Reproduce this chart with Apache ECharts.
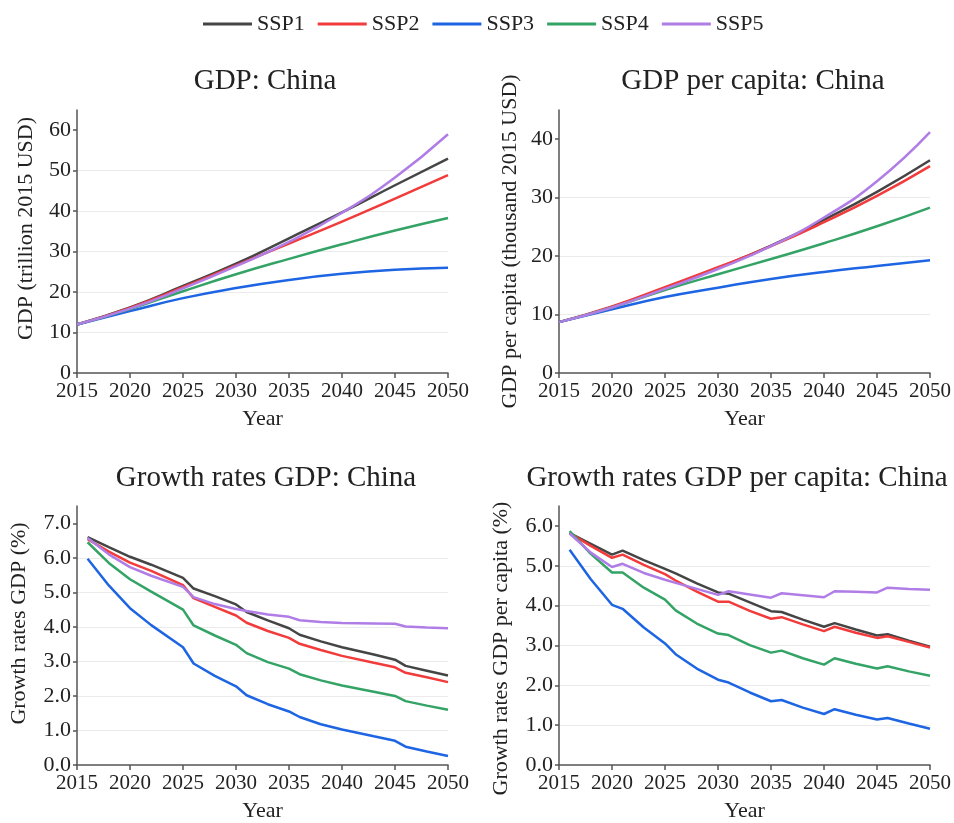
<!DOCTYPE html>
<html>
<head>
<meta charset="utf-8">
<title>China GDP projections by SSP</title>
<script src="https://cdn.jsdelivr.net/npm/echarts@6/dist/echarts.min.js"></script>
<style>
  html, body { margin: 0; padding: 0; background: #ffffff; }
  #chart { width: 954px; height: 823px; }
</style>
</head>
<body>
<div id="chart"></div>
<script>
// Scenario names and colours
const scenarios = ['SSP1', 'SSP2', 'SSP3', 'SSP4', 'SSP5'];
const colors = ['#454545', '#f23b3b', '#1d65e3', '#33a366', '#b07de6'];

// Levels: five-year steps
const levelYears = [2015, 2020, 2025, 2030, 2035, 2040, 2045, 2050];

// GDP, trillion 2015 USD
const gdpSSP1 = [12.0, 16.2, 21.5, 27.0, 33.3, 39.7, 46.4, 53.0];
const gdpSSP2 = [12.0, 16.1, 21.2, 26.6, 32.0, 37.4, 43.1, 48.9];
const gdpSSP3 = [12.0, 15.3, 18.5, 21.0, 23.0, 24.5, 25.5, 26.0];
const gdpSSP4 = [12.0, 15.8, 20.2, 24.4, 28.2, 31.8, 35.2, 38.3];
const gdpSSP5 = [12.0, 15.9, 20.9, 26.4, 32.4, 39.6, 48.3, 59.0];

// GDP per capita, thousand 2015 USD
const gdppcSSP1 = [8.7, 11.3, 14.6, 18.0, 21.8, 26.2, 31.0, 36.4];
const gdppcSSP2 = [8.7, 11.4, 14.7, 18.1, 21.7, 25.8, 30.3, 35.4];
const gdppcSSP3 = [8.7, 10.9, 13.0, 14.6, 16.1, 17.3, 18.3, 19.3];
const gdppcSSP4 = [8.7, 11.2, 14.2, 16.9, 19.5, 22.2, 25.1, 28.3];
const gdppcSSP5 = [8.7, 11.2, 14.4, 17.8, 21.7, 26.6, 32.8, 41.2];

// Growth rates of GDP, %
const growthYears = [2016, 2018, 2020, 2022, 2025, 2026, 2028, 2030, 2031, 2033,
                     2035, 2036, 2038, 2040, 2043, 2045, 2046, 2048, 2050];
const growthSSP1 = [6.60, 6.31, 6.03, 5.80, 5.42, 5.11, 4.89, 4.65, 4.43, 4.19,
                    3.96, 3.77, 3.58, 3.41, 3.20, 3.05, 2.87, 2.73, 2.59];
const growthSSP2 = [6.54, 6.18, 5.86, 5.62, 5.21, 4.83, 4.58, 4.33, 4.12, 3.88,
                    3.68, 3.51, 3.33, 3.16, 2.96, 2.83, 2.67, 2.54, 2.40];
const growthSSP3 = [5.97, 5.20, 4.54, 4.05, 3.41, 2.94, 2.58, 2.28, 2.02, 1.76,
                    1.55, 1.39, 1.18, 1.03, 0.83, 0.70, 0.53, 0.39, 0.26];
const growthSSP4 = [6.45, 5.85, 5.38, 5.02, 4.50, 4.04, 3.75, 3.48, 3.24, 2.98,
                    2.79, 2.63, 2.45, 2.30, 2.12, 2.00, 1.85, 1.72, 1.60];
const growthSSP5 = [6.57, 6.10, 5.73, 5.48, 5.16, 4.86, 4.66, 4.52, 4.46, 4.36,
                    4.29, 4.19, 4.14, 4.11, 4.10, 4.09, 4.01, 3.98, 3.96];

// Growth rates of GDP per capita, %
const growthPcYears = [2016, 2018, 2020, 2021, 2023, 2025, 2026, 2028, 2030, 2031, 2033,
                       2035, 2036, 2038, 2040, 2041, 2043, 2045, 2046, 2048, 2050];
const growthPcSSP1 = [5.82, 5.55, 5.28, 5.38, 5.14, 4.92, 4.81, 4.56, 4.33, 4.30, 4.08,
                      3.86, 3.84, 3.65, 3.47, 3.56, 3.40, 3.25, 3.28, 3.12, 2.97];
const growthPcSSP2 = [5.82, 5.50, 5.20, 5.28, 5.02, 4.79, 4.63, 4.35, 4.10, 4.10, 3.87,
                      3.67, 3.71, 3.53, 3.36, 3.47, 3.32, 3.19, 3.23, 3.09, 2.95];
const growthPcSSP3 = [5.40, 4.66, 4.02, 3.92, 3.45, 3.05, 2.78, 2.42, 2.14, 2.07, 1.82,
                      1.60, 1.63, 1.44, 1.28, 1.40, 1.26, 1.14, 1.18, 1.04, 0.91];
const growthPcSSP4 = [5.87, 5.30, 4.83, 4.83, 4.45, 4.15, 3.88, 3.55, 3.30, 3.26, 3.01,
                      2.82, 2.87, 2.68, 2.52, 2.68, 2.54, 2.42, 2.48, 2.35, 2.24];
const growthPcSSP5 = [5.81, 5.33, 4.97, 5.05, 4.82, 4.65, 4.57, 4.42, 4.27, 4.36, 4.28,
                      4.20, 4.31, 4.26, 4.21, 4.36, 4.35, 4.33, 4.45, 4.42, 4.40];

// Axis ticks
const yearTicks = [2015, 2020, 2025, 2030, 2035, 2040, 2045, 2050];
const gdpTicks = [0, 10, 20, 30, 40, 50, 60];
const gdppcTicks = [0, 10, 20, 30, 40];
const growthTicks = [0, 1, 2, 3, 4, 5, 6, 7];
const growthPcTicks = [0, 1, 2, 3, 4, 5, 6];

const panels = [
  { title: 'GDP: China', yName: 'GDP (trillion 2015 USD)', x: levelYears,
    series: [gdpSSP1, gdpSSP2, gdpSSP3, gdpSSP4, gdpSSP5], ticks: gdpTicks, max: 65,
    step: 10, digits: 0, smooth: true },
  { title: 'GDP per capita: China', yName: 'GDP per capita (thousand 2015 USD)', x: levelYears,
    series: [gdppcSSP1, gdppcSSP2, gdppcSSP3, gdppcSSP4, gdppcSSP5], ticks: gdppcTicks, max: 45,
    step: 10, digits: 0, smooth: true },
  { title: 'Growth rates GDP: China', yName: 'Growth rates GDP (%)', x: growthYears,
    series: [growthSSP1, growthSSP2, growthSSP3, growthSSP4, growthSSP5], ticks: growthTicks, max: 7.5,
    step: 1, digits: 1, smooth: false },
  { title: 'Growth rates GDP per capita: China', yName: 'Growth rates GDP per capita (%)', x: growthPcYears,
    series: [growthPcSSP1, growthPcSSP2, growthPcSSP3, growthPcSSP4, growthPcSSP5], ticks: growthPcTicks, max: 6.5,
    step: 1, digits: 1, smooth: false }
];

const FONT = '"Liberation Serif", "Times New Roman", serif';
const TEXT = '#222222';
const AXIS = '#555555';

// Panel placement
const grids = [
  { left: 77, top: 110, width: 371, height: 263 },
  { left: 559, top: 110, width: 371, height: 263 },
  { left: 77, top: 506, width: 371, height: 262 },
  { left: 559, top: 506, width: 371, height: 262 }
];
const titlePos = [
  { x: 265, y: 67 }, { x: 753, y: 67 }, { x: 266, y: 464 }, { x: 737, y: 464 }
];
const yNameGap = [40, 38, 47, 47];
// shifts each rotated axis name along its axis
const yNamePad = [[0, 0, 0, 26], [0, 0, 0, 0], [0, 0, 0, 24], [0, 26, 0, 0]];

const option = {
  backgroundColor: '#ffffff',
  animation: false,
  color: colors,
  legend: {
    data: scenarios,
    left: 203,
    top: 13,
    padding: 0,
    icon: 'rect',
    itemWidth: 49,
    itemHeight: 3,
    itemGap: 13,
    textStyle: { fontFamily: FONT, fontSize: 22, color: TEXT }
  },
  title: panels.map((p, i) => ({
    text: p.title,
    left: titlePos[i].x,
    top: titlePos[i].y,
    textAlign: 'center',
    padding: 0,
    textStyle: { fontFamily: FONT, fontSize: 29, fontWeight: 'normal', color: TEXT }
  })),
  grid: grids.map(g => Object.assign({ containLabel: false }, g)),
  xAxis: panels.map((p, i) => ({
    type: 'value',
    gridIndex: i,
    min: 2015,
    max: 2050,
    interval: 5,
    name: 'Year',
    nameLocation: 'middle',
    nameGap: 35,
    nameTextStyle: { fontFamily: FONT, fontSize: 22, color: TEXT },
    axisLine: { show: true, lineStyle: { color: AXIS, width: 1.5 } },
    axisTick: { show: true, length: 5, lineStyle: { color: AXIS, width: 1.5 } },
    axisLabel: { fontFamily: FONT, fontSize: 21, color: TEXT, margin: 8,
                 customValues: yearTicks, formatter: v => String(v) },
    splitLine: { show: false }
  })),
  yAxis: panels.map((p, i) => ({
    type: 'value',
    gridIndex: i,
    min: 0,
    max: p.max,
    interval: p.step,
    name: p.yName,
    nameLocation: 'middle',
    nameGap: yNameGap[i],
    nameTextStyle: { fontFamily: FONT, fontSize: 22, color: TEXT, padding: yNamePad[i] },
    axisLine: { show: true, lineStyle: { color: AXIS, width: 1.5 } },
    axisTick: { show: true, length: 4, customValues: p.ticks, lineStyle: { color: AXIS, width: 1.5 } },
    axisLabel: { fontFamily: FONT, fontSize: 22, color: TEXT, margin: 6,
                 customValues: p.ticks,
                 formatter: v => v.toFixed(p.digits) },
    splitLine: { show: true, showMaxLine: false, showMinLine: false,
                 lineStyle: { color: '#ebebeb', width: 1 } }
  })),
  series: []
};

panels.forEach((p, i) => {
  p.series.forEach((vals, k) => {
    option.series.push({
      name: scenarios[k],
      type: 'line',
      xAxisIndex: i,
      yAxisIndex: i,
      data: p.x.map((yr, j) => [yr, vals[j]]),
      smooth: p.smooth,
      showSymbol: false,
      symbol: 'none',
      lineStyle: { width: 2.5, color: colors[k] },
      itemStyle: { color: colors[k] },
      z: 2 + k
    });
  });
});

const chart = echarts.init(document.getElementById('chart'), null, { renderer: 'canvas' });
chart.setOption(option);
</script>
</body>
</html>
